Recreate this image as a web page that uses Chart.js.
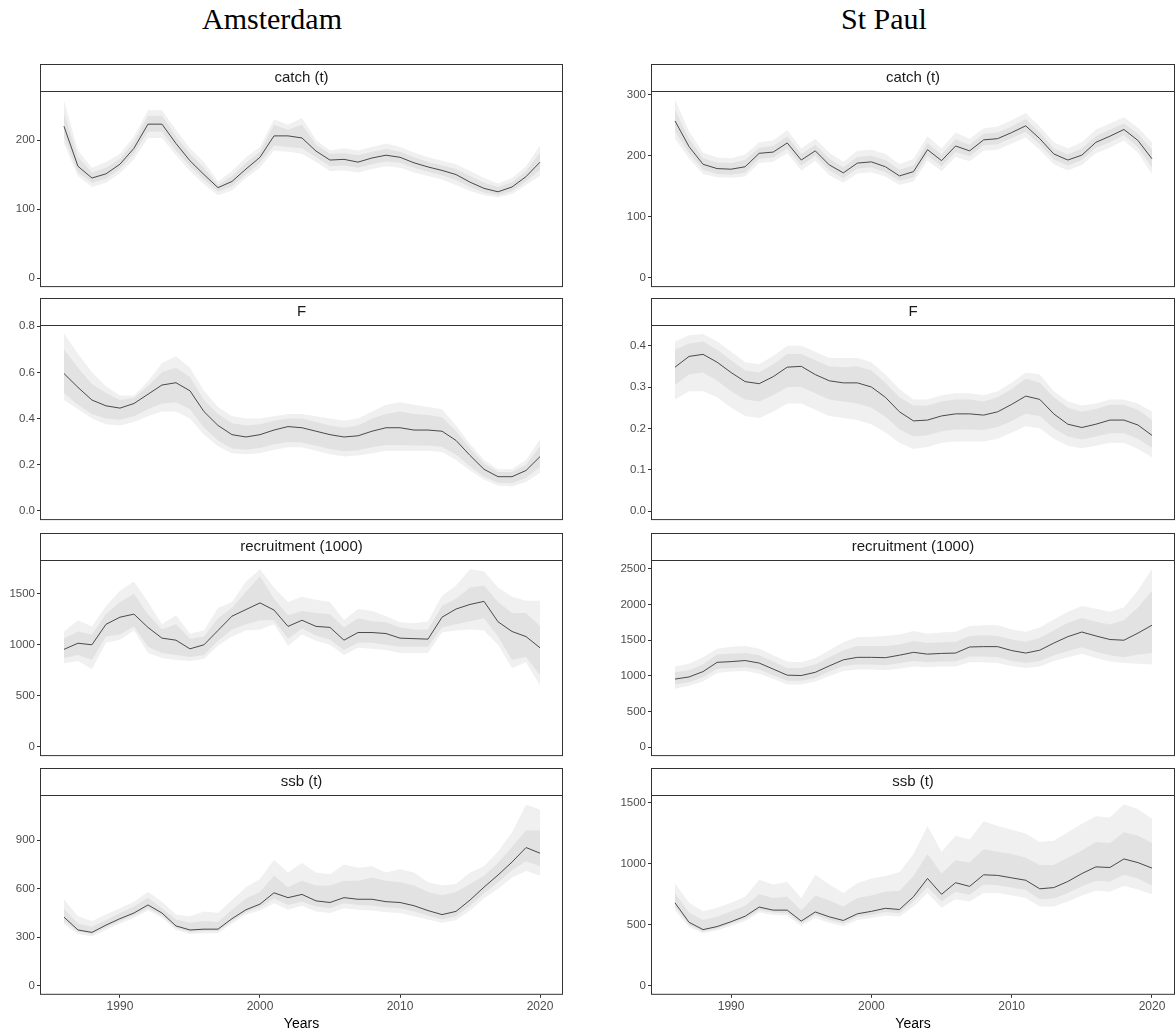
<!DOCTYPE html>
<html>
<head>
<meta charset="utf-8">
<script src="https://cdn.jsdelivr.net/npm/chart.js@4"></script>
<style>
  body { margin: 0; background: #fff; width: 1176px; height: 1033px; position: relative; overflow: hidden; }
  .site { position: absolute; top: 2px; font-family: "Liberation Serif", serif; font-size: 30px; color: #000; transform: translateX(-50%); }
  canvas { position: absolute; }
</style>
</head>
<body>
<div class="site" style="left:272px">Amsterdam</div>
<div class="site" style="left:884px">St Paul</div>

<script>
const years = [];
for (let y = 1986; y <= 2020; y++) years.push(y);

// Amsterdam
const amCatch = [220,162,145,151,165,188,223,223,195,170,150,131,140,158,175,206,206,203,184,171,172,168,174,178,175,167,161,156,150,139,130,125,132,147,168];
const amCatchOutHi = [258,185,160,168,180,205,243,243,215,188,168,140,155,175,190,230,222,232,200,185,188,185,190,195,190,182,175,170,165,155,145,137,145,162,192];
const amCatchOutLo = [195,148,132,138,152,172,203,203,178,155,136,120,127,145,160,185,183,180,168,155,156,153,158,162,160,153,148,143,135,126,120,117,122,135,148];
const amCatchInHi = [240,175,153,160,173,198,235,235,205,180,160,135,148,167,183,222,215,222,193,180,181,178,183,187,183,175,168,163,158,148,138,132,139,155,182];
const amCatchInLo = [205,153,138,144,158,180,212,212,185,162,143,125,133,150,167,192,190,188,175,162,163,160,165,169,167,160,154,149,142,132,124,120,126,140,157];

const amF = [0.595,0.535,0.48,0.455,0.445,0.465,0.505,0.545,0.555,0.52,0.43,0.37,0.33,0.32,0.33,0.35,0.365,0.36,0.345,0.33,0.32,0.325,0.345,0.36,0.36,0.35,0.35,0.345,0.305,0.24,0.18,0.148,0.148,0.175,0.235];
const amFOutHi = [0.77,0.68,0.6,0.54,0.5,0.5,0.56,0.64,0.67,0.62,0.52,0.45,0.41,0.4,0.4,0.41,0.42,0.42,0.41,0.4,0.39,0.4,0.43,0.46,0.47,0.46,0.45,0.44,0.37,0.29,0.22,0.18,0.18,0.22,0.31];
const amFOutLo = [0.48,0.44,0.4,0.375,0.37,0.385,0.41,0.43,0.43,0.4,0.33,0.28,0.25,0.245,0.25,0.265,0.275,0.275,0.26,0.245,0.235,0.24,0.25,0.26,0.26,0.26,0.26,0.255,0.22,0.175,0.135,0.11,0.105,0.125,0.165];
const amFInHi = [0.7,0.62,0.55,0.51,0.48,0.49,0.54,0.6,0.62,0.58,0.48,0.42,0.38,0.37,0.375,0.39,0.4,0.4,0.385,0.37,0.36,0.37,0.4,0.42,0.43,0.42,0.415,0.405,0.345,0.27,0.205,0.168,0.168,0.2,0.28];
const amFInLo = [0.51,0.46,0.42,0.4,0.395,0.41,0.44,0.465,0.47,0.44,0.36,0.305,0.27,0.265,0.272,0.288,0.298,0.296,0.282,0.268,0.258,0.263,0.275,0.285,0.285,0.283,0.283,0.278,0.243,0.193,0.148,0.122,0.12,0.142,0.19];

const amRec = [955,1015,1000,1200,1270,1300,1170,1065,1045,960,1000,1140,1280,1345,1410,1340,1180,1240,1180,1170,1045,1120,1120,1110,1065,1060,1055,1270,1350,1395,1425,1225,1130,1080,970];
const amRecOutHi = [1130,1240,1180,1380,1530,1620,1420,1200,1290,1110,1140,1360,1420,1620,1740,1560,1420,1470,1440,1420,1240,1350,1330,1280,1220,1210,1230,1480,1580,1740,1720,1560,1470,1430,1430];
const amRecOutLo = [820,840,760,1020,1050,1140,920,870,850,840,860,990,1080,1140,1150,1200,990,1100,1040,1000,900,970,960,950,920,920,920,1120,1140,1150,1140,1000,770,830,600];
const amRecInHi = [1060,1130,1100,1300,1420,1500,1300,1150,1200,1060,1080,1260,1360,1520,1670,1450,1290,1330,1310,1300,1170,1260,1230,1220,1170,1150,1150,1380,1450,1560,1580,1420,1310,1310,1180];
const amRecInLo = [870,900,850,1080,1100,1180,980,920,900,880,900,1040,1150,1200,1240,1240,1060,1160,1090,1050,950,1020,1020,1000,980,980,980,1170,1200,1230,1260,1080,850,880,700];

const amSsb = [425,345,330,375,415,450,500,450,370,345,350,350,415,470,505,575,545,565,525,515,545,535,535,520,515,495,465,440,460,530,610,685,765,855,820];
const amSsbOutHi = [535,430,400,440,480,520,580,520,440,430,460,450,530,610,660,780,700,760,700,690,750,730,740,700,720,700,640,620,630,700,740,830,950,1120,1090];
const amSsbOutLo = [380,320,305,345,385,420,465,420,345,320,325,325,385,440,465,510,470,495,460,450,480,470,465,455,450,430,410,390,405,465,540,600,670,710,680];
const amSsbInHi = [475,385,365,405,450,490,545,480,410,390,400,395,470,540,580,680,610,650,620,620,650,650,670,650,640,620,580,560,580,630,680,760,860,960,960];
const amSsbInLo = [400,335,318,360,400,436,480,435,358,333,338,338,400,455,485,540,500,520,490,480,510,500,495,485,480,460,435,410,430,495,570,640,715,770,740];

// St Paul
const spCatch = [257,215,186,179,178,182,204,206,221,193,208,185,172,188,190,182,167,174,210,192,216,208,226,228,238,249,228,203,193,201,222,232,243,225,195];
const spCatchOutHi = [292,240,205,197,196,202,222,225,242,212,228,205,190,208,210,203,186,195,232,212,238,228,245,248,258,270,248,222,212,222,243,253,263,246,222];
const spCatchOutLo = [228,196,170,165,164,166,188,190,204,176,192,168,156,171,173,166,152,158,192,175,198,191,208,210,220,230,210,186,176,185,204,213,225,205,170];
const spCatchInHi = [275,228,196,189,188,193,213,216,232,203,218,195,181,198,200,193,177,184,221,202,227,218,236,238,248,260,238,212,202,212,232,243,253,236,210];
const spCatchInLo = [240,204,177,170,169,172,195,197,212,184,200,176,163,179,181,173,159,165,200,183,206,199,217,219,229,239,219,194,184,193,213,222,234,214,181];

const spF = [0.348,0.374,0.379,0.36,0.335,0.313,0.308,0.325,0.348,0.35,0.33,0.315,0.31,0.31,0.3,0.275,0.24,0.218,0.22,0.23,0.235,0.235,0.232,0.24,0.258,0.278,0.27,0.235,0.21,0.202,0.21,0.22,0.22,0.208,0.183];
const spFOutHi = [0.41,0.425,0.428,0.41,0.385,0.36,0.355,0.375,0.4,0.4,0.385,0.37,0.37,0.37,0.36,0.33,0.295,0.27,0.27,0.28,0.285,0.285,0.28,0.29,0.31,0.335,0.33,0.29,0.265,0.255,0.26,0.27,0.27,0.26,0.24];
const spFOutLo = [0.27,0.29,0.29,0.275,0.25,0.23,0.225,0.24,0.26,0.26,0.245,0.23,0.225,0.22,0.21,0.19,0.165,0.15,0.155,0.165,0.168,0.168,0.168,0.175,0.19,0.205,0.2,0.175,0.158,0.152,0.158,0.165,0.165,0.15,0.13];
const spFInHi = [0.39,0.405,0.41,0.39,0.365,0.34,0.335,0.355,0.38,0.38,0.365,0.35,0.348,0.35,0.34,0.31,0.275,0.255,0.255,0.265,0.27,0.27,0.265,0.275,0.295,0.32,0.31,0.275,0.25,0.24,0.247,0.257,0.257,0.245,0.22];
const spFInLo = [0.305,0.33,0.335,0.315,0.29,0.27,0.265,0.28,0.3,0.3,0.285,0.27,0.265,0.26,0.25,0.228,0.198,0.18,0.183,0.193,0.197,0.197,0.196,0.203,0.218,0.235,0.23,0.2,0.18,0.173,0.18,0.188,0.188,0.175,0.153];

const spRec = [955,985,1060,1190,1200,1215,1180,1095,1010,1005,1050,1140,1225,1260,1260,1255,1290,1330,1305,1315,1320,1405,1410,1410,1355,1320,1360,1460,1550,1615,1560,1510,1500,1600,1710];
const spRecOutHi = [1130,1170,1260,1380,1410,1420,1380,1290,1200,1190,1250,1360,1470,1540,1550,1560,1580,1630,1590,1610,1620,1700,1710,1710,1650,1620,1680,1790,1900,1980,1940,1900,1960,2200,2500];
const spRecOutLo = [820,860,920,1040,1060,1070,1030,960,880,880,920,1000,1070,1090,1090,1080,1100,1130,1120,1130,1130,1190,1190,1180,1140,1110,1130,1210,1260,1310,1250,1200,1180,1170,1160];
const spRecInHi = [1050,1080,1160,1300,1310,1320,1290,1200,1110,1110,1160,1260,1360,1420,1420,1420,1440,1490,1460,1470,1480,1560,1570,1560,1510,1480,1530,1640,1740,1810,1760,1720,1780,1960,2190];
const spRecInLo = [880,910,980,1100,1110,1120,1090,1010,930,930,970,1060,1140,1160,1160,1150,1180,1210,1190,1200,1200,1270,1270,1260,1210,1180,1210,1290,1350,1400,1340,1290,1260,1300,1320];

const spSsb = [680,520,460,485,525,570,645,620,620,530,605,565,535,590,610,635,625,730,880,750,845,815,910,905,885,865,795,805,855,920,975,970,1040,1010,965];
const spSsbOutHi = [840,680,610,640,680,730,870,830,850,720,910,830,760,840,880,900,930,1080,1310,1100,1230,1200,1350,1310,1280,1250,1180,1190,1260,1330,1390,1380,1490,1450,1370];
const spSsbOutLo = [620,480,430,455,490,530,600,580,575,490,555,515,490,540,555,575,565,650,760,640,710,690,760,760,740,720,650,650,690,740,780,770,820,790,750];
const spSsbInHi = [760,600,540,565,610,655,750,720,730,620,740,700,650,720,740,770,780,900,1080,920,1030,1010,1120,1100,1080,1050,990,990,1050,1110,1180,1170,1260,1230,1170];
const spSsbInLo = [650,500,445,470,510,550,620,600,595,510,580,540,510,565,580,605,595,690,810,690,770,745,830,825,805,785,710,715,760,815,860,855,910,880,820];

const xTicks = [1990, 2000, 2010, 2020];

const stripTops = [64, 298, 533, 768];
const plotBottoms = [295, 528, 764, 998];
const STRIP = 27;

const panels = [
  { col: 0, row: 0, title: 'catch (t)', line: amCatch, oh: amCatchOutHi, ol: amCatchOutLo, ih: amCatchInHi, il: amCatchInLo, min: -13, max: 271, ticks: [0,100,200] },
  { col: 0, row: 1, title: 'F', line: amF, oh: amFOutHi, ol: amFOutLo, ih: amFInHi, il: amFInLo, min: -0.04, max: 0.805, ticks: [0,0.2,0.4,0.6,0.8], dec: 1 },
  { col: 0, row: 2, title: 'recruitment (1000)', line: amRec, oh: amRecOutHi, ol: amRecOutLo, ih: amRecInHi, il: amRecInLo, min: -90, max: 1830, ticks: [0,500,1000,1500] },
  { col: 0, row: 3, title: 'ssb (t)', line: amSsb, oh: amSsbOutHi, ol: amSsbOutLo, ih: amSsbInHi, il: amSsbInLo, min: -56, max: 1180, ticks: [0,300,600,900] },
  { col: 1, row: 0, title: 'catch (t)', line: spCatch, oh: spCatchOutHi, ol: spCatchOutLo, ih: spCatchInHi, il: spCatchInLo, min: -15, max: 306, ticks: [0,100,200,300] },
  { col: 1, row: 1, title: 'F', line: spF, oh: spFOutHi, ol: spFOutLo, ih: spFInHi, il: spFInLo, min: -0.022, max: 0.45, ticks: [0,0.1,0.2,0.3,0.4], dec: 1 },
  { col: 1, row: 2, title: 'recruitment (1000)', line: spRec, oh: spRecOutHi, ol: spRecOutLo, ih: spRecInHi, il: spRecInLo, min: -125, max: 2625, ticks: [0,500,1000,1500,2000,2500] },
  { col: 1, row: 3, title: 'ssb (t)', line: spSsb, oh: spSsbOutHi, ol: spSsbOutLo, ih: spSsbInHi, il: spSsbInLo, min: -75, max: 1565, ticks: [0,500,1000,1500] }
];

const stripPlugin = {
  id: 'strip',
  afterDraw(chart, args, opts) {
    const { ctx, chartArea: a } = chart;
    ctx.save();
    ctx.fillStyle = '#fff';
    ctx.strokeStyle = '#333';
    ctx.lineWidth = 1;
    ctx.fillRect(a.left, a.top - STRIP, a.right - a.left, STRIP);
    ctx.strokeRect(a.left + 0.5, a.top - STRIP + 0.5, a.right - a.left - 1, STRIP);
    ctx.strokeRect(a.left + 0.5, a.top + 0.5, a.right - a.left - 1, a.bottom - a.top - 1);
    ctx.fillStyle = '#1a1a1a';
    ctx.font = '15px "Liberation Sans", Arial, sans-serif';
    ctx.textAlign = 'center';
    ctx.textBaseline = 'middle';
    ctx.fillText(opts.title, (a.left + a.right) / 2, a.top - STRIP / 2);
    ctx.restore();
  }
};

panels.forEach(p => {
  const bottomRow = p.row === 3;
  const top = stripTops[p.row];
  const h = bottomRow ? 1033 - top : plotBottoms[p.row] - top + 1;
  const left = p.col === 0 ? 0 : 606;
  const c = document.createElement('canvas');
  c.width = 570; c.height = h;
  c.style.left = left + 'px'; c.style.top = top + 'px';
  c.style.width = '570px'; c.style.height = h + 'px';
  document.body.appendChild(c);

  const pts = arr => arr.map((v, i) => ({ x: years[i], y: v }));
  // higher order is drawn further back
  const band = (col, fill, order) => ({ borderWidth: 0, pointRadius: 0, backgroundColor: col, fill: fill, tension: 0, order: order });

  new Chart(c, {
    type: 'line',
    data: {
      datasets: [
        Object.assign({ data: pts(p.oh) }, band('#f0f0f0', '+1', 3)),
        Object.assign({ data: pts(p.ol) }, band('#f0f0f0', false, 3)),
        Object.assign({ data: pts(p.ih) }, band('#e2e2e2', '+1', 2)),
        Object.assign({ data: pts(p.il) }, band('#e2e2e2', false, 2)),
        { data: pts(p.line), borderColor: '#4a4a4a', borderWidth: 1, pointRadius: 0, fill: false, tension: 0, order: 1 }
      ]
    },
    options: {
      responsive: false,
      animation: false,
      devicePixelRatio: 1,
      layout: { padding: { top: STRIP, right: p.col === 0 ? 7 : 1, bottom: 0, left: 0 } },
      plugins: { legend: { display: false }, tooltip: { enabled: false }, strip: { title: p.title } },
      scales: {
        x: {
          type: 'linear', min: 1984.29, max: 2021.64,
          display: bottomRow,
          afterBuildTicks: s => { s.ticks = xTicks.map(v => ({ value: v })); },
          grid: { drawOnChartArea: false, drawTicks: true, tickLength: 3, color: '#333' },
          border: { display: false },
          ticks: { color: '#4d4d4d', font: { size: 12, family: '"Liberation Sans", Arial' }, padding: 2, maxRotation: 0, callback: v => String(v) },
          title: { display: true, text: 'Years', color: '#000', font: { size: 14, family: '"Liberation Sans", Arial' }, padding: { top: 0, bottom: 0 } }
        },
        y: {
          min: p.min, max: p.max,
          afterBuildTicks: s => { s.ticks = p.ticks.map(v => ({ value: v })); },
          afterFit: s => { s.width = p.col === 0 ? 40 : 45; },
          grid: { drawOnChartArea: false, drawTicks: true, tickLength: 3, color: '#333' },
          border: { display: false },
          ticks: {
            color: '#4d4d4d', font: { size: 11.5, family: '"Liberation Sans", Arial' }, padding: 2,
            callback: v => p.dec ? v.toFixed(p.dec) : String(v)
          }
        }
      }
    },
    plugins: [stripPlugin]
  });
});
</script>
</body>
</html>
